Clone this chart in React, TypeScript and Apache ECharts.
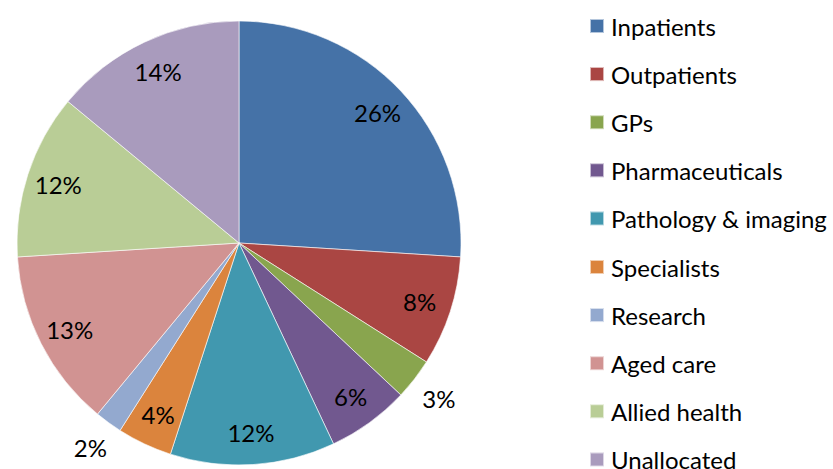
import React, { useEffect, useRef } from "react";
import * as echarts from "echarts";

const categories = [
  "Inpatients",
  "Outpatients",
  "GPs",
  "Pharmaceuticals",
  "Pathology & imaging",
  "Specialists",
  "Research",
  "Aged care",
  "Allied health",
  "Unallocated",
];
const values = [26, 8, 3, 6, 12, 4, 2, 13, 12, 14];
const colors = [
  "#4572A7",
  "#AA4643",
  "#89A54E",
  "#71588F",
  "#4198AF",
  "#DB843D",
  "#93A9CF",
  "#D19392",
  "#B9CD96",
  "#A99BBD",
];
// slices whose label sits outside the pie
const outsideLabels = ["GPs", "Research"];

const FONT = "Lato, 'Open Sans', sans-serif";

export default function App() {
  const ref = useRef<HTMLDivElement>(null);
  useEffect(() => {
    if (!ref.current) return;
    document.body.style.margin = "0";
    document.body.style.overflow = "hidden";
    const chart = echarts.init(ref.current, undefined, { renderer: "svg" });
    const center = [239, 243];
    const R = 222;
    const labelStyle = {
      color: "#000",
      fontFamily: FONT,
      fontSize: 24,
      formatter: "{c}%",
    };
    const transparent = "rgba(0,0,0,0)";
    const legendBase = {
      orient: "vertical",
      left: 589,
      padding: 0,
      height: 250,
      itemWidth: 14,
      itemHeight: 14,
      itemGap: 24.1,
      icon: "rect",
      selectedMode: false,
      textStyle: {
        color: "#000",
        fontFamily: FONT,
        fontSize: 24,
        padding: [0, 0, 0, 2],
      },
    };
    const legendItems = categories.map((c, i) => ({
      name: c,
      itemStyle: { color: colors[i] },
    }));
    chart.setOption({
      animation: false,
      backgroundColor: "#fff",
      legend: [
        { ...legendBase, top: 14, data: legendItems.slice(0, 5) },
        { ...legendBase, top: 255, data: legendItems.slice(5) },
      ],
      series: [
        {
          type: "pie",
          center,
          radius: R,
          startAngle: 90,
          clockwise: true,
          silent: true,
          label: { show: false },
          labelLine: { show: false },
          itemStyle: { borderColor: "rgba(255,255,255,0.6)", borderWidth: 1 },
          data: categories.map((c, i) => ({
            name: c,
            value: values[i],
            itemStyle: { color: colors[i] },
          })),
        },
        {
          type: "pie",
          center,
          radius: [152, R],
          startAngle: 90,
          clockwise: true,
          silent: true,
          labelLine: { show: false },
          itemStyle: { color: transparent },
          data: categories.map((c, i) => ({
            name: c,
            value: values[i],
            label: {
              show: !outsideLabels.includes(c),
              position: "inside",
              ...labelStyle,
            },
          })),
        },
        {
          type: "pie",
          center,
          radius: [R, 278],
          startAngle: 90,
          clockwise: true,
          silent: true,
          labelLine: { show: false },
          itemStyle: { color: transparent },
          data: categories.map((c, i) => ({
            name: c,
            value: values[i],
            label: {
              show: outsideLabels.includes(c),
              position: "inside",
              ...labelStyle,
            },
          })),
        },
      ],
    });
    return () => chart.dispose();
  }, []);
  return (
    <div
      ref={ref}
      style={{ position: "absolute", left: 0, top: 0, width: 833, height: 469 }}
    />
  );
}
